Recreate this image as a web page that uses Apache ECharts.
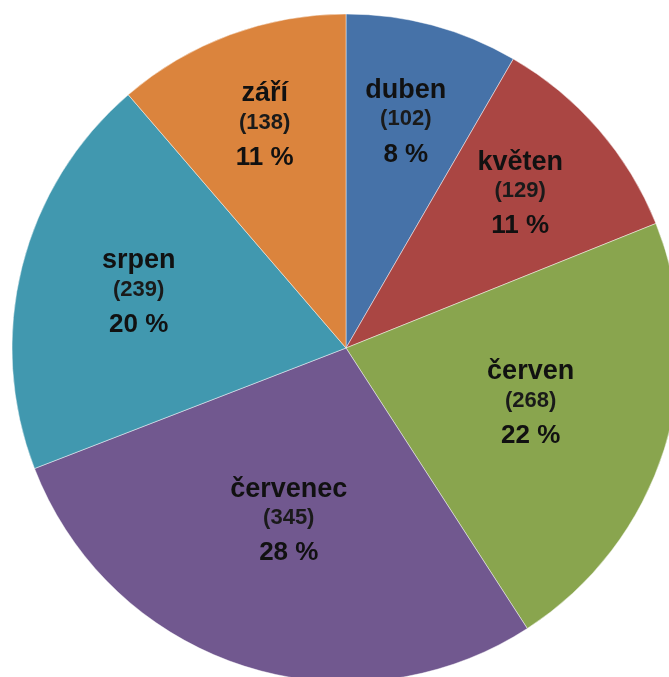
<!DOCTYPE html>
<html>
<head>
<meta charset="utf-8">
<script src="https://cdn.jsdelivr.net/npm/echarts@6/dist/echarts.min.js"></script>
<style>
html,body{margin:0;padding:0;background:#fff;}
#c{width:669px;height:677px;}
</style>
</head>
<body>
<div id="c"></div>
<script>
// Data
var categories = ['duben', 'květen', 'červen', 'červenec', 'srpen', 'září'];
var values = [102, 129, 268, 345, 239, 138];
var colors = ['#4672A8', '#AA4643', '#89A54E', '#71588F', '#4198AF', '#DB843D'];
// label distance from centre as fraction of radius (style)
var labelRadiusFrac = [0.69, 0.69, 0.58, 0.555, 0.64, 0.70];

var CX = 346, CY = 348, R = 334;
var total = values.reduce(function (a, b) { return a + b; }, 0);

var chart = echarts.init(document.getElementById('c'), null, {renderer: 'canvas'});
chart.setOption({
  animation: false,
  backgroundColor: '#ffffff',
  series: [{
    type: 'pie',
    center: [CX, CY],
    radius: [0, R],
    startAngle: 90,
    clockwise: true,
    percentPrecision: 0,
    avoidLabelOverlap: false,
    itemStyle: {
      borderColor: 'rgba(255,255,255,0.45)',
      borderWidth: 1
    },
    label: {
      show: true,
      position: 'inside',
      formatter: '{a|{b}}\n{b|({c})}\n{c|{d} %}',
      color: '#111',
      fontFamily: 'Liberation Sans, Arial, sans-serif',
      rich: {
        a: {fontSize: 27, fontWeight: 'bold', lineHeight: 30, color: '#111', fontFamily: 'Liberation Sans'},
        b: {fontSize: 22, fontWeight: 'bold', lineHeight: 28, color: '#1a1a1a', fontFamily: 'Liberation Sans'},
        c: {fontSize: 26, fontWeight: 'bold', lineHeight: 42, color: '#111', fontFamily: 'Liberation Sans'}
      }
    },
    labelLine: {show: false},
    emphasis: {disabled: true},
    labelLayout: function (p) {
      var i = p.dataIndex;
      var cum = 0;
      for (var k = 0; k < i; k++) cum += values[k];
      var mid = (cum + values[i] / 2) / total * 2 * Math.PI;
      var r = R * labelRadiusFrac[i];
      return {
        x: CX + r * Math.sin(mid),
        y: CY - r * Math.cos(mid),
        align: 'center',
        verticalAlign: 'middle'
      };
    },
    data: categories.map(function (n, i) {
      return {name: n, value: values[i], itemStyle: {color: colors[i]}};
    })
  }]
});
</script>
</body>
</html>
